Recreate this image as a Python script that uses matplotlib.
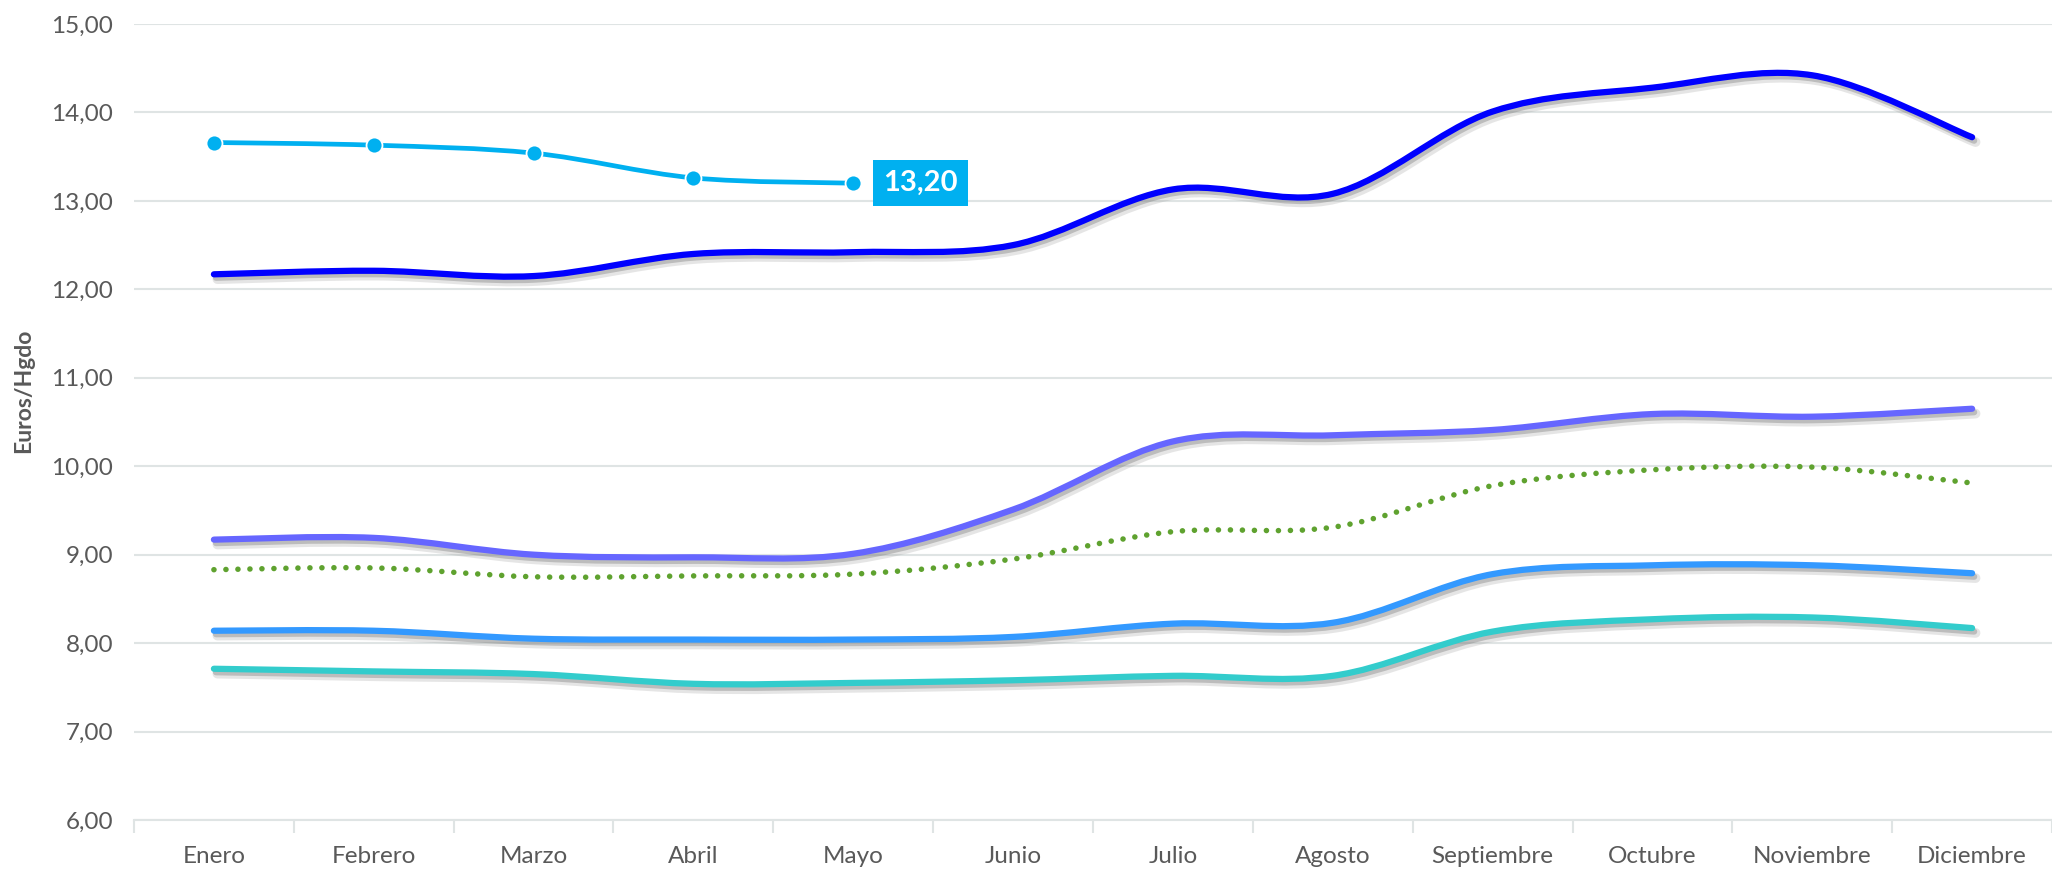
import numpy as np
import matplotlib.pyplot as plt
from matplotlib.path import Path
from matplotlib.patches import PathPatch
import matplotlib.patheffects as pe

# Datos (Euros/Hgdo)
meses = ["Enero", "Febrero", "Marzo", "Abril", "Mayo", "Junio", "Julio",
         "Agosto", "Septiembre", "Octubre", "Noviembre", "Diciembre"]
serie_azul = [12.17, 12.21, 12.15, 12.40, 12.42, 12.50, 13.13, 13.08, 14.01, 14.28, 14.42, 13.72]
serie_actual = [13.66, 13.63, 13.54, 13.26, 13.20]
serie_morada = [9.17, 9.19, 9.00, 8.97, 9.01, 9.51, 10.28, 10.35, 10.41, 10.59, 10.56, 10.65]
serie_verde = [8.83, 8.85, 8.75, 8.76, 8.78, 8.95, 9.26, 9.31, 9.78, 9.96, 9.99, 9.81]
serie_celeste = [8.14, 8.14, 8.05, 8.04, 8.04, 8.07, 8.22, 8.23, 8.78, 8.88, 8.88, 8.79]
serie_turquesa = [7.71, 7.68, 7.65, 7.54, 7.55, 7.58, 7.63, 7.63, 8.13, 8.27, 8.29, 8.17]

plt.rcParams['font.family'] = ['Lato', 'DejaVu Sans']
gris = '#595959'
rejilla = '#dfe4e4'


def curva_suave(y):
    # Curva tipo Excel: Bezier a partir de Catmull-Rom
    x = np.arange(len(y), dtype=float)
    p = np.column_stack([x, np.asarray(y, dtype=float)])
    pp = np.vstack([p[0], p, p[-1]])
    verts = [p[0]]
    codes = [Path.MOVETO]
    for i in range(len(p) - 1):
        c1 = pp[i + 1] + (pp[i + 2] - pp[i]) / 6
        c2 = pp[i + 2] - (pp[i + 3] - pp[i + 1]) / 6
        verts += [c1, c2, pp[i + 2]]
        codes += [Path.CURVE4] * 3
    return Path(verts, codes)


fig = plt.figure(figsize=(20.52, 8.69), dpi=100)
ax = fig.add_axes([134 / 2052, 49 / 869, 1 - 134 / 2052, 796 / 869])

sombra = [pe.SimpleLineShadow(offset=(2.5, -3.5), shadow_color='#9a9a9a', alpha=0.25, linewidth=7),
          pe.SimpleLineShadow(offset=(1.5, -2.5), shadow_color='#7f7f7f', alpha=0.4),
          pe.Normal()]

for datos, color in [(serie_turquesa, '#33cccc'), (serie_celeste, '#3399ff'),
                     (serie_morada, '#6666ff'), (serie_azul, '#0000ff')]:
    ax.add_patch(PathPatch(curva_suave(datos), fill=False, edgecolor=color, lw=4.5,
                           capstyle='round', path_effects=sombra, zorder=3))

ax.add_patch(PathPatch(curva_suave(serie_verde), fill=False, edgecolor='#5fa22f', lw=4.0,
                       linestyle=(0, (0.01, 2.15)), capstyle='round', zorder=3))

ax.add_patch(PathPatch(curva_suave(serie_actual), fill=False, edgecolor='#00b0f0', lw=3.4,
                       capstyle='round', zorder=4))
ax.plot(range(len(serie_actual)), serie_actual, linestyle='none', marker='o', ms=11.5,
        mfc='#00b0f0', mec='white', mew=1.3, zorder=5)
ax.annotate(f"{serie_actual[-1]:.2f}".replace('.', ','), xy=(len(serie_actual) - 1, serie_actual[-1]),
            xytext=(30, 0), textcoords='offset pixels', ha='left', va='center',
            fontsize=21, fontweight='bold', color='white', zorder=6,
            bbox=dict(boxstyle='square,pad=0.35', fc='#00b0f0', ec='none'))

ax.set_xlim(-0.5, (2052 - 134) / 161.04 - 0.5)
ax.set_ylim(6, 15)
ax.set_yticks(np.arange(6, 16, 1))
ax.set_yticklabels([f"{v:.2f}".replace('.', ',') for v in np.arange(6, 16, 1)])
ax.set_xticks(range(12))
ax.set_xticklabels(meses)
ax.set_xticks(np.arange(-0.5, 12, 1), minor=True)
ax.tick_params(axis='x', which='major', length=0, pad=19, labelsize=17.5, labelcolor=gris)
ax.tick_params(axis='x', which='minor', length=9, width=1.5, color=rejilla)
ax.tick_params(axis='y', length=0, pad=15, labelsize=17.5, labelcolor=gris)
ax.grid(axis='y', color=rejilla, lw=1.5, zorder=0)
for lado in ['top', 'right', 'left']:
    ax.spines[lado].set_visible(False)
ax.spines['bottom'].set_color(rejilla)
ax.spines['bottom'].set_linewidth(1.5)
ax.set_axisbelow(True)

fig.text(24 / 2052, 0.55, 'Euros/Hgdo', rotation=90, ha='center', va='center',
         fontsize=16.5, fontweight='bold', color=gris)

fig.savefig('out.png', dpi=100)
